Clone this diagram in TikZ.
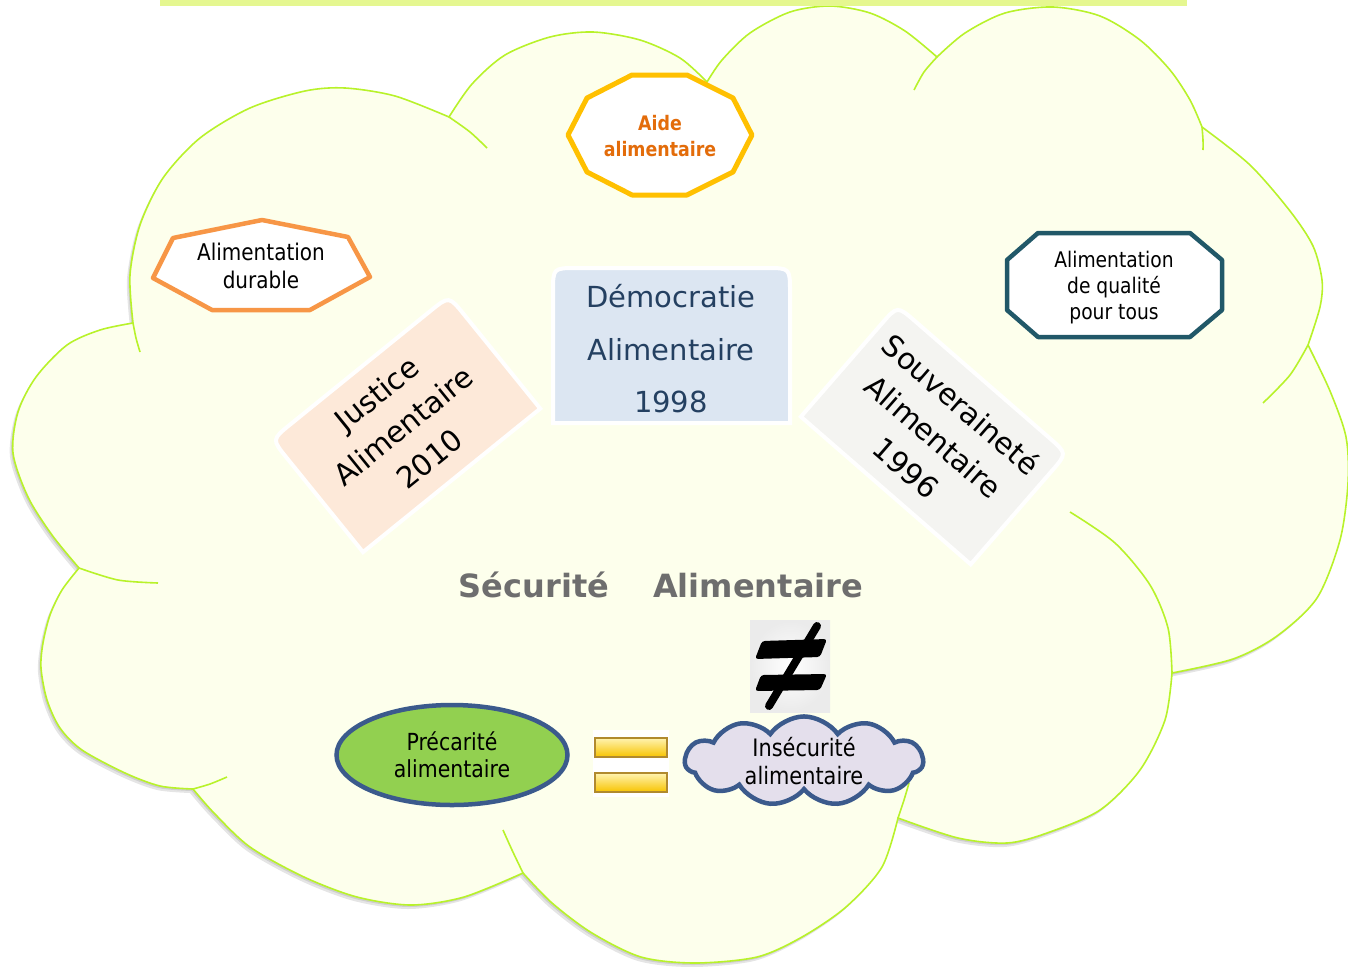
\documentclass[tikz,border=0pt]{standalone}
\usepackage{fontspec}
\setmainfont{DejaVu Sans}
\newfontfamily\tah{DejaVu Sans}[FakeStretch=0.87]
\usetikzlibrary{shapes.geometric,shapes.symbols}
\definecolor{cloudfill}{HTML}{FDFFEC}
\definecolor{cloudline}{HTML}{B8F22A}
\definecolor{topbar}{HTML}{E5F790}
\definecolor{aideline}{HTML}{FFC000}
\definecolor{aidetext}{HTML}{E36C0A}
\definecolor{durline}{HTML}{F79646}
\definecolor{qualline}{HTML}{215868}
\definecolor{demofill}{HTML}{DCE6F2}
\definecolor{demotext}{HTML}{244061}
\definecolor{justfill}{HTML}{FDE9D9}
\definecolor{souvfill}{HTML}{F4F4F1}
\definecolor{precfill}{HTML}{92D050}
\definecolor{blueline}{HTML}{3B5A8C}
\definecolor{insfill}{HTML}{E4DFEC}
\definecolor{secgray}{HTML}{6E6E6E}
\definecolor{eqline}{HTML}{B08A2E}
\definecolor{eqtop}{HTML}{FFF3B0}
\definecolor{eqbot}{HTML}{F7C400}
\newcommand\tabshape[3]{(-#1/2,#2/2) -- (-#1/2,-#2/2+#3) .. controls (-#1/2,-#2/2) .. (-#1/2+#3,-#2/2) -- (#1/2-#3,-#2/2) .. controls (#1/2,-#2/2) .. (#1/2,-#2/2+#3) -- (#1/2,#2/2) -- cycle}
\def\cloudpath{(133,323)
 -- plot[smooth] coordinates {(133,323) (130,275) (140,225) (163,178) (200,138) (250,108) (305,91) (345,88) (395,96) (449,117)}
 -- plot[smooth] coordinates {(449,117) (472,84) (505,55) (550,37) (593,32) (640,40) (680,58) (707,82)}
 -- plot[smooth] coordinates {(707,82) (722,60) (750,33) (790,12) (830,6) (870,13) (905,31) (937,57)}
 -- plot[smooth] coordinates {(937,57) (965,33) (1005,13) (1053,7) (1100,16) (1140,40) (1170,70) (1190,100) (1202,127)}
 -- plot[smooth] coordinates {(1202,127) (1250,165) (1290,211) (1313,246) (1322,280) (1320,307) (1308,345)}
 -- plot[smooth] coordinates {(1308,345) (1330,391) (1346,437) (1348,483) (1340,540) (1317,598) (1277,636) (1233,659) (1172,673)}
 -- plot[smooth] coordinates {(1172,673) (1165,720) (1140,770) (1100,810) (1047,833) (1007,843) (958,838) (898,818)}
 -- plot[smooth] coordinates {(898,818) (882,867) (846,907) (802,937) (757,957) (695,963) (641,957) (592,933) (552,903) (523,873)}
 -- plot[smooth] coordinates {(523,873) (464,897) (411,905) (357,897) (304,877) (250,847) (214,813) (193,789)}
 -- plot[smooth] coordinates {(193,789) (160,786) (125,773) (82,750) (60,728) (47,700) (41,668) (43,643) (50,615) (62,590) (79,568)}
 -- plot[smooth] coordinates {(79,568) (52,535) (28,497) (13,453) (18,412) (36,377) (67,345) (100,330) (133,323)}
 -- cycle}
\begin{document}
\begin{tikzpicture}[x=1pt,y=-1pt,
  cloudout/.style={draw=cloudline, line width=1.6pt},
  tabtext/.style={align=center, inner sep=0pt},
  tabbox/.style={draw=white, line width=4pt}]
\useasboundingbox (0,0) rectangle (1348,966);
% big cloud
\fill[black, opacity=0.10, shift={(-3,4)}] \cloudpath;
\fill[black, opacity=0.10, shift={(-1.5,2)}] \cloudpath;
\fill[cloudfill] \cloudpath;
\draw[cloudout] \cloudpath;
\draw[cloudout] plot[smooth] coordinates {(133,323) (136,338) (140,352)};
\draw[cloudout] plot[smooth] coordinates {(449,117) (470,132) (487,148)};
\draw[cloudout] plot[smooth] coordinates {(79,568) (118,580) (158,583)};
\draw[cloudout] plot[smooth] coordinates {(937,57) (924,72) (914,90)};
\draw[cloudout] plot[smooth] coordinates {(1202,127) (1203,140) (1203,150)};
\draw[cloudout] plot[smooth] coordinates {(1308,345) (1290,375) (1263,403)};
\draw[cloudout] plot[smooth] coordinates {(1172,673) (1168,628) (1150,585) (1115,543) (1070,512)};
\draw[cloudout] plot[smooth] coordinates {(898,818) (904,800) (909,783)};
\draw[cloudout] plot[smooth] coordinates {(523,873) (512,850) (503,830)};
\draw[cloudout] plot[smooth] coordinates {(193,789) (210,784) (227,777)};
% top bar
\fill[topbar] (160,0) rectangle (1187,6);

% Aide alimentaire
\draw[aideline, line width=5pt, fill=white, line join=round] (632,75) -- (687,75) -- (733,98) -- (752,135) -- (733,172) -- (687,195) -- (632,195) -- (587,172) -- (568,135) -- (587,98) -- cycle;
\node[tabtext, text=aidetext, font=\tah\bfseries\fontsize{20}{26}\selectfont] (aide) at (660,136) {Aide\\alimentaire};

% Alimentation durable
\draw[durline, line width=4.5pt, fill=white, line join=round] (262,220) -- (348,237) -- (370,277) -- (310,310) -- (212,310) -- (153,278) -- (173,238) -- cycle;
\node[tabtext, font=\tah\fontsize{23}{28}\selectfont] (durable) at (261,266) {Alimentation\\durable};

% Alimentation de qualite
\draw[qualline, line width=4.5pt, fill=white, line join=round] (1038,233) -- (1190,233) -- (1222,260) -- (1222,310) -- (1190,337) -- (1038,337) -- (1007,310) -- (1007,260) -- cycle;
\node[tabtext, font=\tah\fontsize{21.5}{26}\selectfont] (qualite) at (1114,287.5) {Alimentation\\de qualité\\pour tous};

% Democratie
\begin{scope}[shift={(671.5,345.5)}]
\draw[tabbox, fill=demofill] \tabshape{237}{155}{24};
\end{scope}
\node[tabtext, text=demotext, font=\fontsize{29}{52.5}\selectfont] (demo) at (671,349) {Démocratie\\Alimentaire\\1998};

% Justice
\begin{scope}[shift={(406,424)}, rotate=39]
\draw[tabbox, fill=justfill] \tabshape{228}{145}{24};
\end{scope}
\node[tabtext, rotate=39, font=\fontsize{29.5}{42}\selectfont] (justice) at (403,426) {Justice\\Alimentaire\\2010};

% Souverainete
\begin{scope}[shift={(934,435)}, rotate=-41]
\draw[tabbox, fill=souvfill] \tabshape{225}{147}{24};
\end{scope}
\node[tabtext, rotate=-41, font=\fontsize{29.5}{42}\selectfont] (souv) at (934,436) {Souveraineté\\Alimentaire\\1996};

% Securite alimentaire
\node[anchor=base, inner sep=0pt, text=secgray, font=\bfseries\fontsize{32}{38}\selectfont] (secu) at (661,597) {Sécurité\hspace{44pt}Alimentaire};

% not equal sign
\shade[inner color=white, outer color=black!8] (750,620) rectangle (830,712);
\fill[black, rounded corners=3pt] (762,641) -- (827,639) -- (820,657) -- (755,659) -- cycle;
\fill[black, rounded corners=3pt] (761,675) -- (827,674) -- (820,690) -- (755,691) -- cycle;
\draw[black, line width=8pt, line cap=round] (817,626) -- (769,706);

% equal sign
\fill[white] (593,730) rectangle (669,797);
\shadedraw[top color=eqtop, bottom color=eqbot, draw=eqline, line width=1.5pt] (595,738) rectangle (667,757);
\shadedraw[top color=eqtop, bottom color=eqbot, draw=eqline, line width=1.5pt] (595,773) rectangle (667,792);

% Precarite
\node[ellipse, minimum width=231, minimum height=100, draw=blueline, line width=4.5pt, fill=precfill, tabtext, font=\tah\fontsize{23.5}{27}\selectfont] (prec) at (452,755) {Précarité\\alimentaire};

% Insecurite
\node[cloud, cloud puffs=11, cloud puff arc=110, cloud ignores aspect, minimum width=238, minimum height=84, draw=blueline, line width=4.5pt, fill=insfill, tabtext, font=\tah\fontsize{24}{28}\selectfont] (insec) at (804,761) {Insécurité\\alimentaire};
\end{tikzpicture}
\end{document}
